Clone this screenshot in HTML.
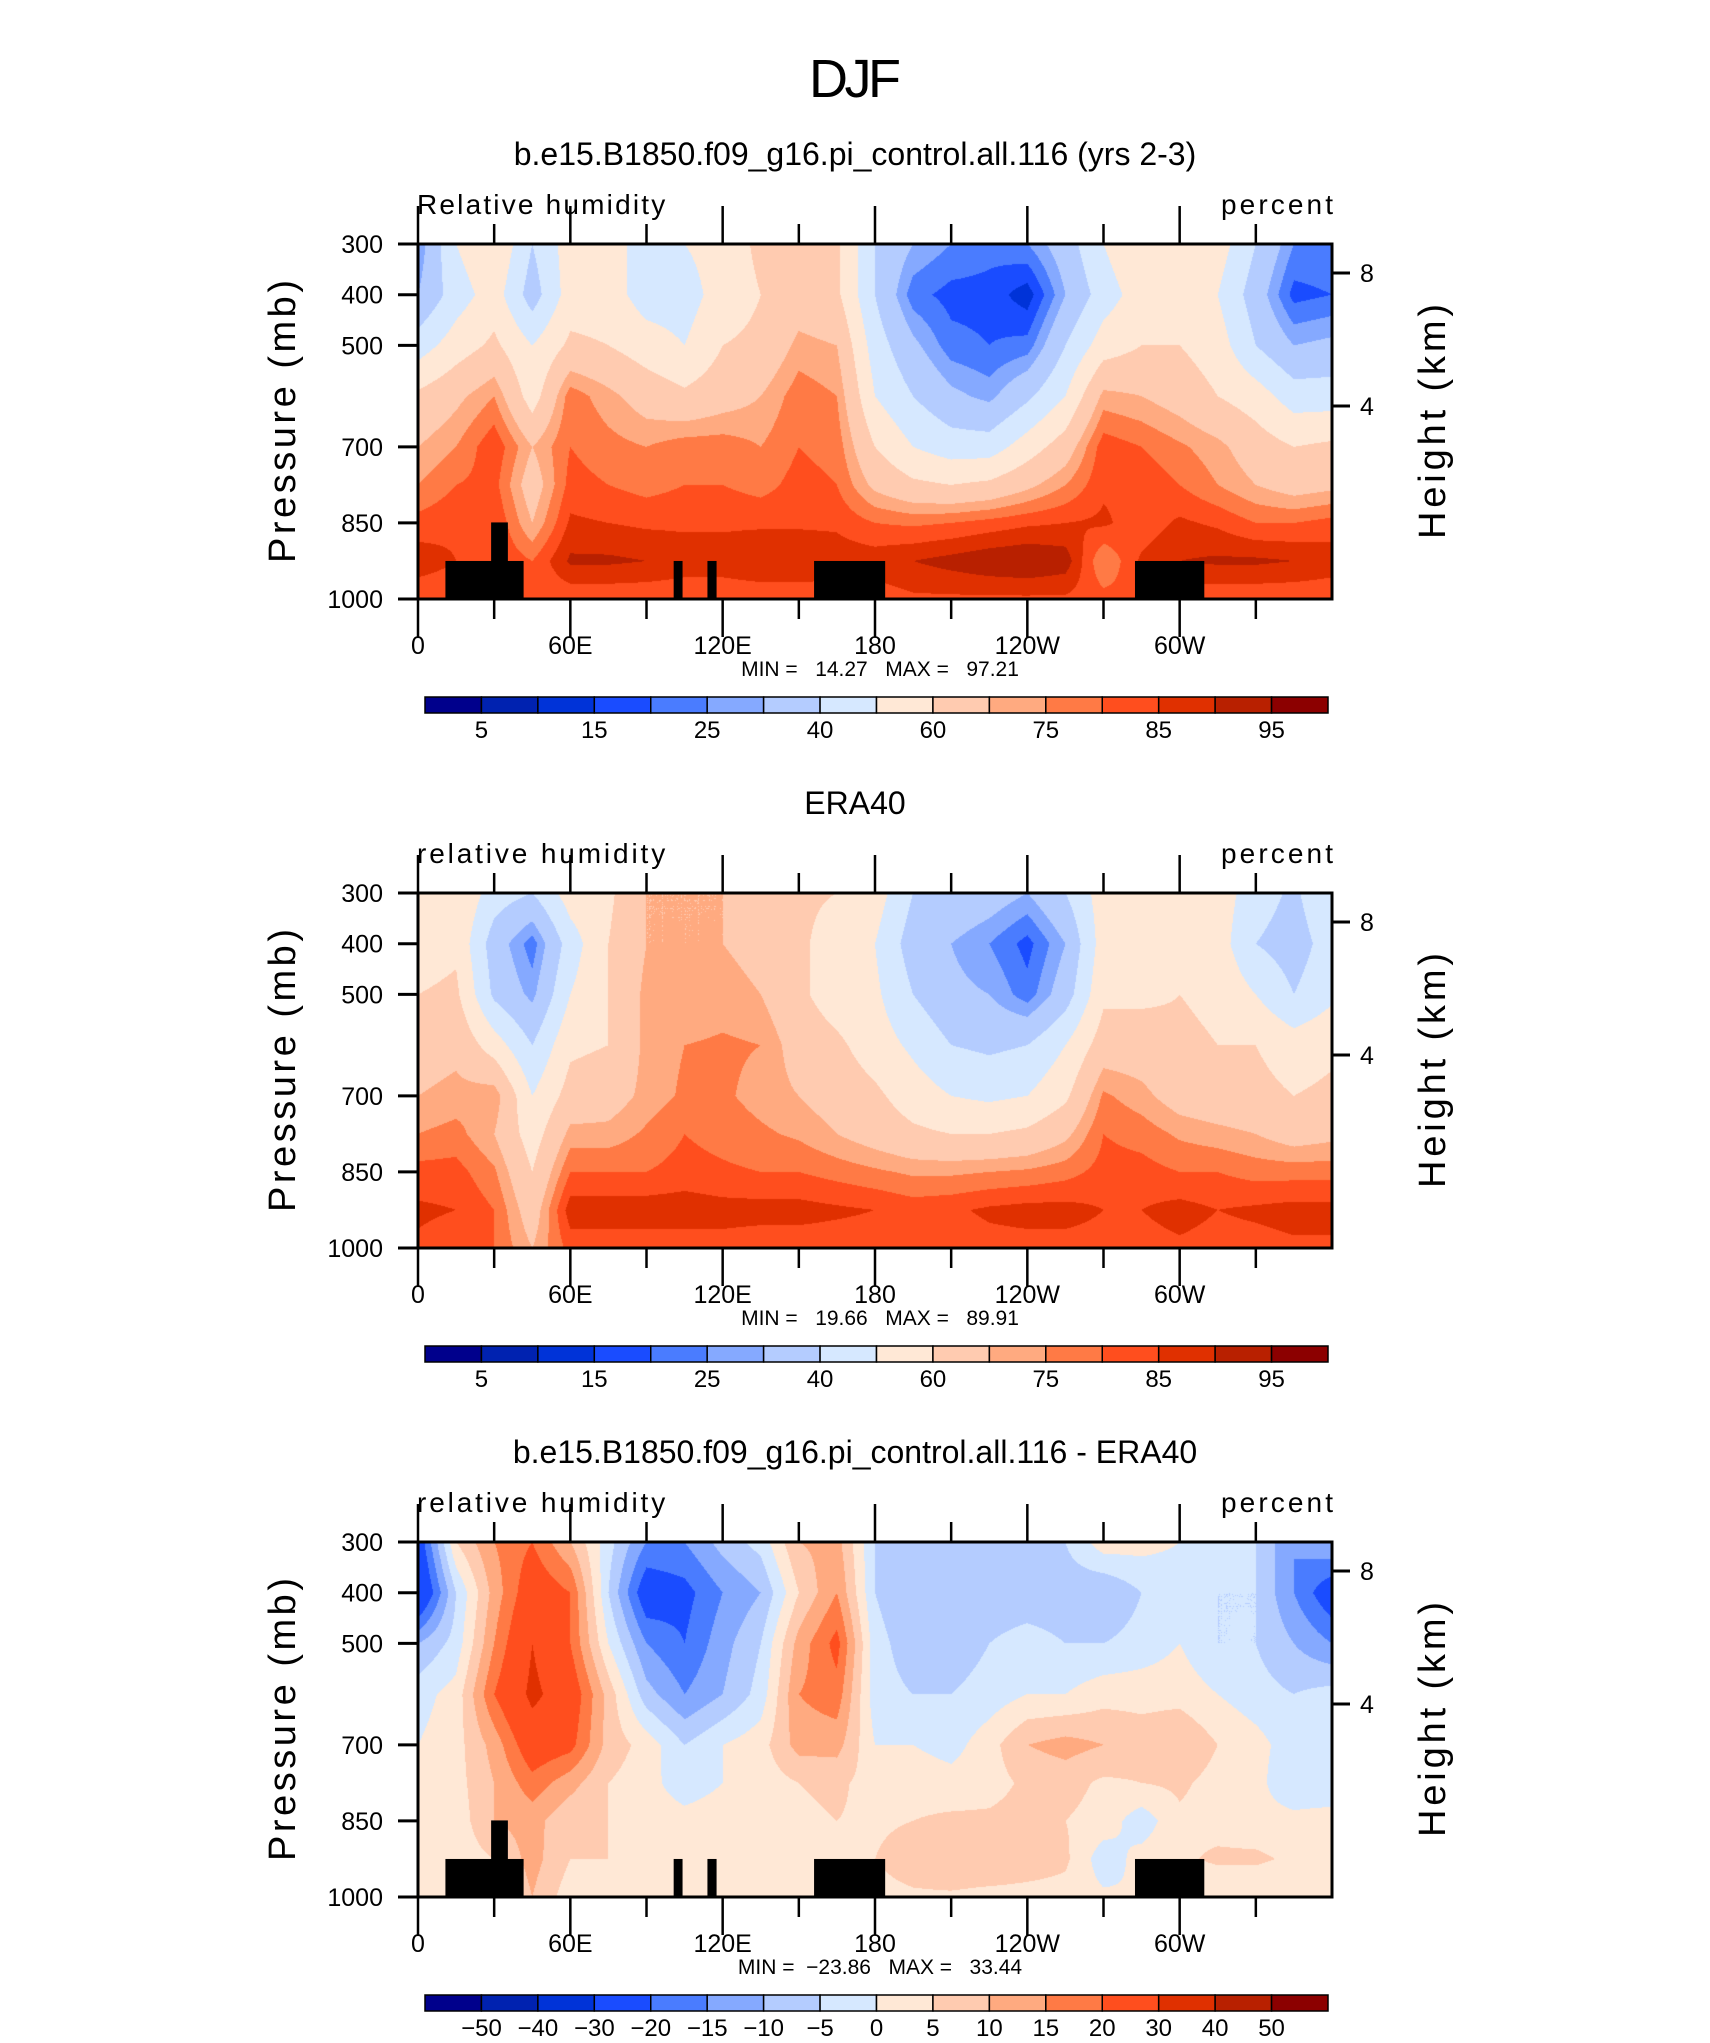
<!DOCTYPE html>
<html><head><meta charset="utf-8"><style>
html,body{margin:0;padding:0;background:#fff}
svg text{font-family:"Liberation Sans",sans-serif;fill:#000}
.pre{white-space:pre}
</style></head><body>
<svg id="root" width="1710" height="2038" xmlns="http://www.w3.org/2000/svg">
<text x="855" y="97" font-size="54" text-anchor="middle" textLength="92" font-weight="300">DJF</text>
</svg>
<script>
const lons=[0,15,30,45,60,75,90,105,120,135,150,165,180,195,210,225,240,255,270,285,300,315,330,345,360];
const levs=[300,400,500,600,700,775,850,925,1000];
const model=[
[25,50,60,40,55,55,45,50,55,62,68,62,40,30,25,22,25,35,50,60,60,55,40,25,25],
[30,45,55,35,55,55,45,45,55,60,65,62,40,22,18,18,12,30,45,55,58,50,35,18,20],
[45,55,62,50,62,60,55,50,60,62,72,70,45,32,22,20,22,40,55,60,60,55,40,30,32],
[62,68,75,55,78,72,66,62,66,70,78,75,50,40,32,28,38,50,72,70,66,60,55,45,45],
[70,75,84,70,80,77,75,78,78,75,80,78,60,50,45,45,55,65,83,80,76,72,65,60,62],
[75,80,82,65,82,80,78,80,80,78,82,80,68,62,60,62,68,75,84,84,80,75,70,66,68],
[82,84,85,70,86,85,84,84,84,84,84,84,80,79,80,82,84,85,86,82,86,84,80,80,82],
[88,85,85,80,91,91,90,88,88,90,90,88,88,90,92,94,95,93,75,86,90,91,91,90,88],
[81,81,81,81,81,81,81,81,81,81,81,82,82,84,84,84,84,84,82,81,82,81,81,81,81]];
const era=[
[60,60,45,40,55,58,70,70,70,70,62,60,55,40,38,35,30,40,55,58,60,55,45,38,50],
[55,58,35,22,45,60,70,70,70,68,62,55,50,35,30,25,18,30,55,55,58,55,40,35,45],
[60,62,38,28,50,60,72,70,72,70,62,55,52,40,32,30,22,35,58,58,60,58,50,40,48],
[66,68,55,40,58,60,72,75,76,75,66,62,55,48,40,38,40,50,65,65,62,60,60,55,58],
[70,72,74,50,64,66,72,76,76,73,70,66,62,55,50,48,50,58,76,72,66,64,63,60,62],
[75,77,70,55,72,72,76,80,78,76,74,70,66,62,60,60,62,68,80,78,74,72,70,66,68],
[82,82,76,60,80,80,80,82,81,80,80,78,76,74,74,75,76,78,82,82,80,80,78,78,78],
[86,85,80,65,88,88,88,88,87,87,87,86,85,83,84,86,87,87,85,85,87,85,86,87,87],
[84,82,80,70,82,82,82,82,83,82,82,82,82,82,82,83,83,83,83,83,84,83,83,84,84]];
const diff=[
[-25,5,15,20,10,-3,-15,-15,-8,-3,10,12,-5,-8,-10,-8,-5,-5,3,2,0,0,-5,-15,-10],
[-30,-5,12,25,20,-5,-25,-22,-15,-10,5,15,-5,-10,-10,-8,-8,-8,-10,-5,-3,-5,-5,-15,-25],
[-10,-3,15,30,20,0,-15,-20,-12,-5,12,22,-3,-8,-8,-5,-3,-5,-5,-3,0,-5,-5,-10,-15],
[-2,2,20,32,25,8,-8,-15,-10,-3,15,18,-3,-5,-5,-3,0,0,3,3,3,0,-3,-5,-3],
[0,3,12,25,22,8,3,-5,0,3,12,12,0,0,-2,3,10,12,10,8,10,5,2,-3,-3],
[0,3,10,18,12,5,2,-3,0,2,5,6,3,3,2,3,6,7,4,5,6,3,2,-5,-5],
[0,2,10,12,6,5,3,2,3,3,4,5,4,5,6,6,7,5,3,-3,4,3,2,2,3],
[3,2,5,12,5,5,4,2,3,5,5,3,5,8,10,10,8,6,-3,2,4,6,6,4,2],
[0,0,2,10,2,1,1,1,0,0,0,2,3,4,4,3,3,3,1,0,0,0,0,0,0]];
const rhLevels=[5,10,15,20,25,30,40,50,60,70,75,80,85,90,95];
const rhLabels=["5","15","25","40","60","75","85","95"];
const dfLevels=[-50,-40,-30,-20,-15,-10,-5,0,5,10,15,20,30,40,50];
const dfLabels=["-50","-40","-30","-20","-15","-10","-5","0","5","10","15","20","30","40","50"];
const colors=["#00008c","#0022b0","#0033d8","#1a4cff","#4a7cff","#85a9ff","#b4ccff","#d6e8ff","#ffe8d6","#ffcbb0","#ffaa80","#ff7a45","#ff4e1e","#e03000","#b82000","#8c0000"];
const land=[[10.8,41.6,925],[28.8,35.4,849],[100.7,104.2,925],[114,117.6,925],[156,184,925],[282.4,309.7,925]];
const xTickLabels=["0","60E","120E","180","120W","60W"];
const yTicks=[300,400,500,700,850,1000];
const hTicks=[[8,29],[4,162]];

const NS="http://www.w3.org/2000/svg";
const root=document.getElementById('root');
function mk(tag,attrs,parent){const e=document.createElementNS(NS,tag);for(const k in attrs)e.setAttribute(k,attrs[k]);(parent||root).appendChild(e);return e;}
const L=418,W=914,H=355;
function xS(lon){return L+lon/360*W;}
function hex(c){return [parseInt(c.slice(1,3),16),parseInt(c.slice(3,5),16),parseInt(c.slice(5,7),16)];}
const rgb=colors.map(hex);
function interp(grid,lon,p){
  let i=Math.min(Math.floor(lon/15),23),fx=(lon-lons[i])/15;
  let j=0;while(j<levs.length-2&&p>levs[j+1])j++;
  let fy=(p-levs[j])/(levs[j+1]-levs[j]);
  const a=grid[j][i],b=grid[j][i+1],c=grid[j+1][i],d=grid[j+1][i+1];
  return a*(1-fx)*(1-fy)+b*fx*(1-fy)+c*(1-fx)*fy+d*fx*fy;
}
function panel(top,name,title,sub,grid,levels,labels,mm,showLand){
  const g=mk('g',{});
  
  
  const t=mk('text',{x:855,y:top-79,'font-size':32,'text-anchor':'middle'},g);t.textContent=title;
  
  const s1=mk('text',{x:417,y:top-30,'font-size':28,textLength:sub[0].length*14.6},g);s1.textContent=sub[0];
  
  const s2=mk('text',{x:1333,y:top-30,'font-size':28,'text-anchor':'end',textLength:112},g);s2.textContent='percent';
  
  const cv=document.createElement('canvas');cv.width=W;cv.height=H;const ctx=cv.getContext('2d');
  const img=ctx.createImageData(W,H);
  for(let y=0;y<H;y++){const p=300+700*(y+0.5)/H;for(let x=0;x<W;x++){const lon=360*(x+0.5)/W;const v=interp(grid,lon,p);
    let k=0;while(k<levels.length&&v>=levels[k])k++;const c=rgb[k];const o=(y*W+x)*4;img.data[o]=c[0];img.data[o+1]=c[1];img.data[o+2]=c[2];img.data[o+3]=255;}}
  ctx.putImageData(img,0,0);
  const im=mk('image',{x:L,y:top,width:W,height:H,href:cv.toDataURL()},g);
  
  const yS=p=>top+(p-300)/700*H;
  if(showLand){land.forEach(r=>{const e=mk('rect',{x:xS(r[0]),y:yS(r[2]),width:xS(r[1])-xS(r[0]),height:yS(1000)-yS(r[2]),fill:'#000'},g);
    });}
  const fr=mk('rect',{x:L,y:top,width:W,height:H,fill:'none',stroke:'#000','stroke-width':3},g);
  
  for(let k=0;k<12;k++){const x=xS(k*30);const len=k%2==0?38:20;
    mk('line',{x1:x,x2:x,y1:top+H,y2:top+H+len,stroke:'#000','stroke-width':2.5},g);
    mk('line',{x1:x,x2:x,y1:top,y2:top-len,stroke:'#000','stroke-width':2.5},g);}
  xTickLabels.forEach((lb,k)=>{const e=mk('text',{x:xS(k*60),y:top+H+55,'font-size':25,'text-anchor':'middle'},g);e.textContent=lb;
    });
  const m=mk('text',{x:880,y:top+H+77,'font-size':21,'text-anchor':'middle','class':'pre'},g);m.textContent=mm;
  
  yTicks.forEach(p=>{const y=yS(p);mk('line',{x1:L-20,x2:L,y1:y,y2:y,stroke:'#000','stroke-width':3},g);
    const e=mk('text',{x:L-35,y:y+9,'font-size':25,'text-anchor':'end'},g);e.textContent=p;
    });
  hTicks.forEach(h=>{const y=top+h[1];mk('line',{x1:L+W,x2:L+W+18,y1:y,y2:y,stroke:'#000','stroke-width':3},g);
    const e=mk('text',{x:L+W+28,y:y+9,'font-size':25},g);e.textContent=h[0];
    });
  const ya=mk('text',{x:0,y:0,'font-size':38,'text-anchor':'middle',textLength:283,transform:`translate(295,${top+H/2}) rotate(-90)`},g);ya.textContent='Pressure (mb)';
  
  const ha=mk('text',{x:0,y:0,'font-size':38,'text-anchor':'middle',textLength:235,transform:`translate(1445,${top+H/2}) rotate(-90)`},g);ha.textContent='Height (km)';
  
  const cb0=425,cbw=903,cy=top+453,bw=cbw/16;
  colors.forEach((c,k)=>{const e=mk('rect',{x:cb0+k*bw,y:cy,width:bw,height:16,fill:c,stroke:'#000','stroke-width':1.5},g);
    });
  const step=labels.length==8?2:1;
  labels.forEach((lb,k)=>{const bi=step==2?2*k+1:k+1;const e=mk('text',{x:cb0+bi*bw,y:cy+41,'font-size':24,'text-anchor':'middle'},g);e.textContent=lb.replace('-','\u2212');
    });
}
panel(244,'model-panel','b.e15.B1850.f09_g16.pi_control.all.116 (yrs 2-3)',['Relative humidity'],model,rhLevels,rhLabels,'MIN =   14.27   MAX =   97.21',true);
panel(893,'era40-panel','ERA40',['relative humidity'],era,rhLevels,rhLabels,'MIN =   19.66   MAX =   89.91',false);
panel(1542,'difference-panel','b.e15.B1850.f09_g16.pi_control.all.116 - ERA40',['relative humidity'],diff,dfLevels,dfLabels,'MIN =  \u221223.86   MAX =   33.44',true);
</script>
</body></html>
